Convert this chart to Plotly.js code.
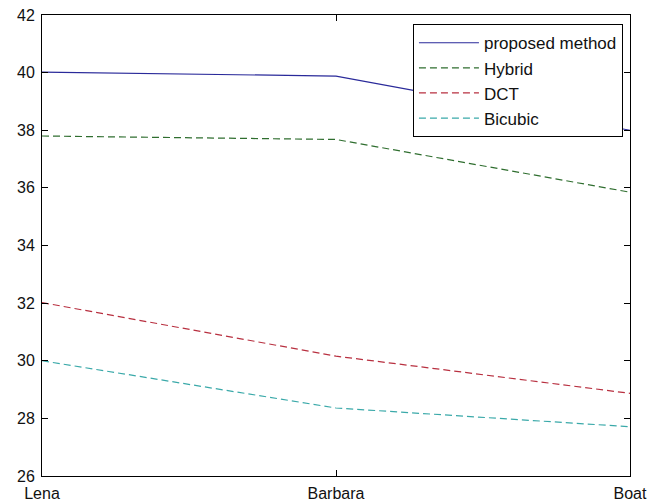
<!DOCTYPE html>
<html>
<head>
<meta charset="utf-8">
<script src="https://cdn.plot.ly/plotly-3.0.1.min.js"></script>
<style>html,body{margin:0;padding:0;background:#fff;}#chart{width:662px;height:501px;}</style>
</head>
<body>
<div id="chart"></div>
<script>
const categories = ["Lena", "Barbara", "Boat"];
const seriesNames = ["proposed method", "Hybrid", "DCT", "Bicubic"];
const proposed = [40.02, 39.88, 38.0];
const hybrid = [37.8, 37.68, 35.85];
const dct = [32.02, 30.16, 28.87];
const bicubic = [30.0, 28.36, 27.71];
const yTicks = [26, 28, 30, 32, 34, 36, 38, 40, 42];

const seriesValues = [proposed, hybrid, dct, bicubic];
const colors = ["#2a2a9a", "#2f6e2f", "#b83040", "#3aa9a9"];
const dashes = ["solid", "7px,4px", "7px,4px", "7px,4px"];

const traces = seriesValues.map((vals, i) => ({
  type: "scatter",
  mode: "lines",
  x: categories,
  y: vals,
  name: seriesNames[i],
  legendgroup: "g" + i,
  line: {color: colors[i], width: 1.2, dash: dashes[i]},
  hoverinfo: "skip"
}));

const font = {family: "Liberation Sans, Arial, sans-serif", size: 16, color: "#111"};

const layout = {
  width: 662,
  height: 501,
  margin: {l: 42, r: 32, t: 15, b: 25, pad: 0},
  paper_bgcolor: "#ffffff",
  plot_bgcolor: "#ffffff",
  font: font,
  showlegend: true,
  legend: {
    x: 0.988, y: 0.98, xanchor: "right", yanchor: "top",
    bordercolor: "#000", borderwidth: 1, bgcolor: "#fff",
    font: {family: "Liberation Sans, Arial, sans-serif", size: 17, color: "#111"},
    traceorder: "grouped", tracegroupgap: 0,
    itemwidth: 60
  },
  xaxis: {
    type: "category",
    range: [0, 2],
    showline: true, linecolor: "#000", linewidth: 1, mirror: "ticks",
    ticks: "inside", ticklen: 6, tickcolor: "#000",
    showgrid: false, zeroline: false,
    ticklabelstandoff: 3,
    tickfont: font
  },
  yaxis: {
    range: [26, 42],
    tickvals: yTicks,
    showline: true, linecolor: "#000", linewidth: 1, mirror: "ticks",
    ticks: "inside", ticklen: 6, tickcolor: "#000",
    showgrid: false, zeroline: false,
    ticklabelstandoff: 3,
    tickfont: font
  }
};

Plotly.newPlot("chart", traces, layout, {staticPlot: true, displayModeBar: false});
</script>
</body>
</html>
